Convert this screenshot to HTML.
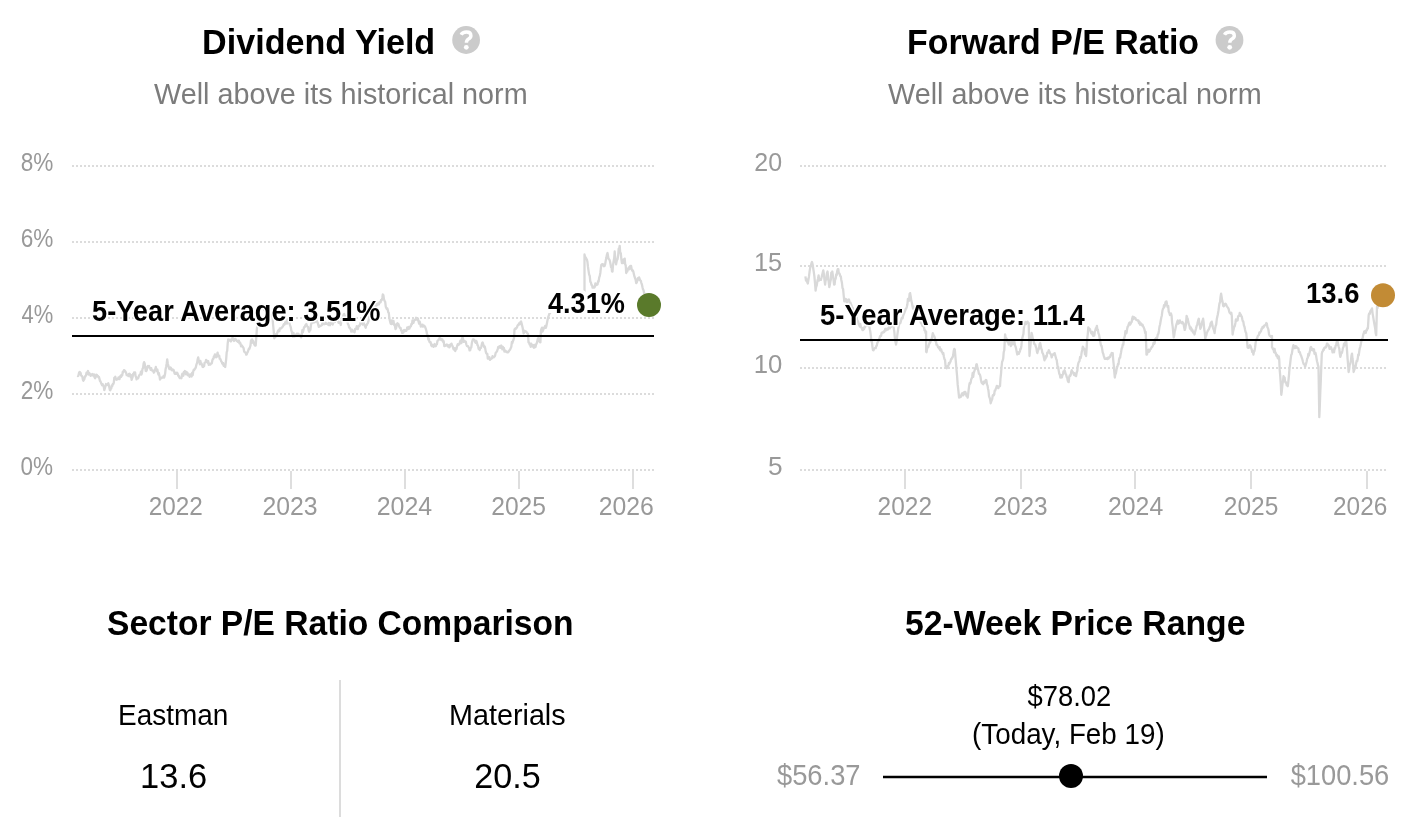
<!DOCTYPE html>
<html><head><meta charset="utf-8"><title>Eastman valuation</title>
<style>html,body{margin:0;padding:0;background:#fff;width:1418px;height:836px;overflow:hidden}svg{display:block;font-family:'Liberation Sans', sans-serif;will-change:transform}</style>
</head><body>
<svg width="1418" height="836" viewBox="0 0 1418 836">
<circle cx="466.1" cy="40" r="13.9" fill="#cbcbcb"/><path d="M461.1 34.8 Q462.5 32.0 466.5 32.0 Q470.90000000000003 32.0 470.90000000000003 35.6 Q471.1 37.6 468.5 39 Q466.40000000000003 40.2 466.40000000000003 42.8" fill="none" stroke="#fff" stroke-width="3.4"/><circle cx="466.3" cy="47.3" r="2.4" fill="#fff"/>
<circle cx="1229.5" cy="40" r="13.9" fill="#cbcbcb"/><path d="M1224.5 34.8 Q1225.9 32.0 1229.9 32.0 Q1234.3 32.0 1234.3 35.6 Q1234.5 37.6 1231.9 39 Q1229.8 40.2 1229.8 42.8" fill="none" stroke="#fff" stroke-width="3.4"/><circle cx="1229.7" cy="47.3" r="2.4" fill="#fff"/>
<text x="202.10" y="54.00" font-weight="bold" font-size="35.9" fill="#000" textLength="233.10" lengthAdjust="spacingAndGlyphs">Dividend Yield</text>
<text x="907.11" y="54.00" font-weight="bold" font-size="35.9" fill="#000" textLength="291.94" lengthAdjust="spacingAndGlyphs">Forward P/E Ratio</text>
<text x="154.00" y="104.00" font-weight="normal" font-size="29" fill="#7c7c7c" textLength="373.60" lengthAdjust="spacingAndGlyphs">Well above its historical norm</text>
<text x="888.00" y="104.00" font-weight="normal" font-size="29" fill="#7c7c7c" textLength="373.60" lengthAdjust="spacingAndGlyphs">Well above its historical norm</text>
<line x1="72" y1="166" x2="654" y2="166" stroke="#dcdcdc" stroke-width="2" stroke-dasharray="2 2"/>
<line x1="72" y1="242" x2="654" y2="242" stroke="#dcdcdc" stroke-width="2" stroke-dasharray="2 2"/>
<line x1="72" y1="318" x2="654" y2="318" stroke="#dcdcdc" stroke-width="2" stroke-dasharray="2 2"/>
<line x1="72" y1="394" x2="654" y2="394" stroke="#dcdcdc" stroke-width="2" stroke-dasharray="2 2"/>
<line x1="72" y1="470" x2="654" y2="470" stroke="#dcdcdc" stroke-width="2" stroke-dasharray="2 2"/>
<line x1="177" y1="471" x2="177" y2="489" stroke="#dedede" stroke-width="2"/>
<line x1="291" y1="471" x2="291" y2="489" stroke="#dedede" stroke-width="2"/>
<line x1="405" y1="471" x2="405" y2="489" stroke="#dedede" stroke-width="2"/>
<line x1="519" y1="471" x2="519" y2="489" stroke="#dedede" stroke-width="2"/>
<line x1="633" y1="471" x2="633" y2="489" stroke="#dedede" stroke-width="2"/>
<line x1="800" y1="166" x2="1387" y2="166" stroke="#dcdcdc" stroke-width="2" stroke-dasharray="2 2"/>
<line x1="800" y1="266" x2="1387" y2="266" stroke="#dcdcdc" stroke-width="2" stroke-dasharray="2 2"/>
<line x1="800" y1="368" x2="1387" y2="368" stroke="#dcdcdc" stroke-width="2" stroke-dasharray="2 2"/>
<line x1="800" y1="470" x2="1387" y2="470" stroke="#dcdcdc" stroke-width="2" stroke-dasharray="2 2"/>
<line x1="905" y1="471" x2="905" y2="489" stroke="#dedede" stroke-width="2"/>
<line x1="1021" y1="471" x2="1021" y2="489" stroke="#dedede" stroke-width="2"/>
<line x1="1135" y1="471" x2="1135" y2="489" stroke="#dedede" stroke-width="2"/>
<line x1="1251" y1="471" x2="1251" y2="489" stroke="#dedede" stroke-width="2"/>
<line x1="1367" y1="471" x2="1367" y2="489" stroke="#dedede" stroke-width="2"/>
<text x="20.70" y="171.00" font-weight="normal" font-size="25" fill="#999" textLength="32.63" lengthAdjust="spacingAndGlyphs">8%</text>
<text x="20.70" y="247.00" font-weight="normal" font-size="25" fill="#999" textLength="32.63" lengthAdjust="spacingAndGlyphs">6%</text>
<text x="21.60" y="323.00" font-weight="normal" font-size="25" fill="#999" textLength="31.72" lengthAdjust="spacingAndGlyphs">4%</text>
<text x="20.70" y="399.00" font-weight="normal" font-size="25" fill="#999" textLength="32.63" lengthAdjust="spacingAndGlyphs">2%</text>
<text x="20.60" y="475.00" font-weight="normal" font-size="25" fill="#999" textLength="32.53" lengthAdjust="spacingAndGlyphs">0%</text>
<text x="754.30" y="171.00" font-weight="normal" font-size="25" fill="#999" textLength="27.81" lengthAdjust="spacingAndGlyphs">20</text>
<text x="753.98" y="271.00" font-weight="normal" font-size="25" fill="#999" textLength="28.15" lengthAdjust="spacingAndGlyphs">15</text>
<text x="753.84" y="373.00" font-weight="normal" font-size="25" fill="#999" textLength="28.59" lengthAdjust="spacingAndGlyphs">10</text>
<text x="767.95" y="475.00" font-weight="normal" font-size="25" fill="#999" textLength="14.60" lengthAdjust="spacingAndGlyphs">5</text>
<text x="148.73" y="515.00" font-weight="normal" font-size="25" fill="#999" textLength="54.18" lengthAdjust="spacingAndGlyphs">2022</text>
<text x="262.51" y="515.00" font-weight="normal" font-size="25" fill="#999" textLength="55.11" lengthAdjust="spacingAndGlyphs">2023</text>
<text x="376.70" y="515.00" font-weight="normal" font-size="25" fill="#999" textLength="55.42" lengthAdjust="spacingAndGlyphs">2024</text>
<text x="491.21" y="515.00" font-weight="normal" font-size="25" fill="#999" textLength="54.80" lengthAdjust="spacingAndGlyphs">2025</text>
<text x="598.71" y="515.00" font-weight="normal" font-size="25" fill="#999" textLength="55.11" lengthAdjust="spacingAndGlyphs">2026</text>
<text x="877.62" y="515.00" font-weight="normal" font-size="25" fill="#999" textLength="54.39" lengthAdjust="spacingAndGlyphs">2022</text>
<text x="993.32" y="515.00" font-weight="normal" font-size="25" fill="#999" textLength="54.29" lengthAdjust="spacingAndGlyphs">2023</text>
<text x="1108.01" y="515.00" font-weight="normal" font-size="25" fill="#999" textLength="55.21" lengthAdjust="spacingAndGlyphs">2024</text>
<text x="1223.82" y="515.00" font-weight="normal" font-size="25" fill="#999" textLength="54.49" lengthAdjust="spacingAndGlyphs">2025</text>
<text x="1333.02" y="515.00" font-weight="normal" font-size="25" fill="#999" textLength="54.29" lengthAdjust="spacingAndGlyphs">2026</text>
<path d="M77.4 375.6 L78.0 376.1 L78.5 375.3 L79.0 372.9 L79.6 371.9 L80.1 372.3 L80.7 373.2 L81.2 375.7 L81.8 375.8 L82.3 376.6 L82.9 379.7 L83.4 380.7 L83.9 379.8 L84.4 379.1 L84.9 376.5 L85.4 376.4 L86.0 375.2 L86.5 372.6 L87.0 373.7 L87.5 372.4 L88.0 371.0 L88.5 374.5 L89.0 372.9 L89.6 373.4 L90.1 374.4 L90.6 375.8 L91.2 374.6 L91.7 375.4 L92.3 374.0 L92.8 374.6 L93.4 375.5 L93.9 374.4 L94.5 377.1 L95.1 378.2 L95.7 377.2 L96.2 374.7 L96.8 374.8 L97.3 375.8 L97.8 375.9 L98.4 377.2 L98.9 376.9 L99.4 378.6 L100.0 381.0 L100.5 381.3 L101.0 382.8 L101.5 383.9 L102.1 385.2 L102.6 384.1 L103.2 385.7 L103.7 386.4 L104.3 390.0 L104.8 388.6 L105.4 386.2 L106.0 384.0 L106.6 385.0 L107.2 385.2 L107.7 384.5 L108.3 383.3 L108.9 385.3 L109.8 389.9 L110.3 390.2 L110.8 387.9 L111.3 388.4 L111.8 385.4 L112.3 386.1 L112.8 383.9 L113.3 384.1 L113.8 382.6 L114.3 377.9 L114.8 377.7 L115.3 376.7 L115.8 378.5 L116.4 379.8 L116.9 379.4 L117.4 379.3 L118.0 379.1 L118.5 377.4 L119.0 378.8 L119.5 379.1 L120.0 377.0 L120.6 375.6 L121.1 376.9 L121.6 374.9 L122.2 375.5 L122.8 371.6 L123.3 372.3 L123.9 370.2 L124.4 370.2 L125.0 370.9 L125.5 371.6 L126.1 372.7 L126.7 375.2 L127.2 374.8 L127.8 375.2 L128.4 376.1 L128.9 374.0 L129.5 373.6 L130.0 374.6 L130.6 377.1 L131.1 375.1 L131.6 379.8 L132.1 378.3 L132.6 377.0 L133.1 373.9 L133.6 374.3 L134.1 372.3 L134.6 373.1 L135.1 372.4 L135.6 376.3 L136.1 376.9 L136.6 379.4 L137.2 378.0 L137.7 377.6 L138.2 378.3 L138.8 376.2 L139.3 375.2 L139.9 374.4 L140.4 374.4 L140.9 371.6 L141.5 374.5 L142.0 372.7 L142.5 368.9 L143.1 367.9 L143.6 363.6 L144.1 362.2 L144.6 363.3 L145.1 366.2 L145.7 370.9 L146.2 371.0 L146.8 370.1 L147.3 367.0 L147.9 366.0 L148.4 366.3 L149.0 365.9 L149.5 367.8 L150.1 367.8 L150.6 369.8 L151.2 368.1 L151.7 370.2 L152.2 370.5 L152.8 370.5 L153.3 371.3 L153.8 372.7 L154.3 372.0 L154.8 369.9 L155.3 369.0 L155.8 366.9 L156.3 369.7 L156.9 371.1 L157.4 369.7 L157.9 372.7 L158.4 374.5 L158.9 373.1 L159.5 376.2 L160.0 379.5 L160.5 378.6 L161.0 378.1 L161.5 377.6 L162.0 377.8 L162.6 377.4 L163.1 377.1 L163.6 375.9 L164.1 377.6 L164.6 376.1 L165.1 373.8 L165.6 369.2 L166.2 366.5 L166.7 363.5 L167.2 359.5 L167.8 363.5 L168.4 365.7 L169.0 368.2 L169.5 369.1 L170.0 368.3 L170.5 367.5 L171.1 368.3 L171.6 370.2 L172.1 370.3 L172.6 369.4 L173.1 370.2 L173.6 370.0 L174.1 371.5 L174.6 373.6 L175.1 373.9 L175.6 373.0 L176.1 372.7 L176.7 373.9 L177.2 372.8 L177.7 373.7 L178.2 375.6 L178.8 375.9 L179.3 377.4 L179.8 378.2 L180.4 378.2 L180.9 377.8 L181.4 378.3 L181.9 375.2 L182.4 373.6 L182.9 374.4 L183.4 375.7 L183.9 371.8 L184.4 372.4 L184.9 371.0 L185.4 372.8 L186.0 374.4 L186.5 371.9 L187.0 374.2 L187.5 372.9 L188.0 375.3 L188.5 375.0 L189.0 374.7 L189.6 376.8 L190.1 374.4 L190.6 374.4 L191.1 375.4 L191.6 376.5 L192.2 372.6 L192.7 375.0 L193.2 371.6 L193.8 369.6 L194.3 369.8 L194.8 369.0 L195.4 368.2 L195.9 367.0 L196.5 364.2 L197.1 363.0 L197.7 359.2 L198.2 357.4 L198.8 360.1 L199.3 361.3 L199.9 364.3 L200.4 360.9 L200.9 363.5 L201.5 363.4 L202.0 364.7 L202.6 366.9 L203.1 367.0 L203.6 366.3 L204.1 366.2 L204.6 362.7 L205.1 362.5 L205.6 362.3 L206.1 359.8 L206.6 361.4 L207.2 360.6 L207.7 362.8 L208.2 361.2 L208.7 364.8 L209.2 363.6 L209.8 363.9 L210.3 364.6 L210.8 363.8 L211.3 363.4 L211.8 363.4 L212.4 360.2 L212.9 358.9 L213.4 358.9 L213.9 356.3 L214.4 356.2 L214.9 354.3 L215.5 357.0 L216.0 355.6 L216.5 357.2 L217.1 354.7 L217.6 352.6 L218.1 356.0 L218.7 355.8 L219.2 355.6 L219.7 358.7 L220.2 358.8 L220.7 359.8 L221.2 361.4 L221.7 361.7 L222.2 363.4 L222.7 364.1 L223.2 363.1 L223.7 365.8 L224.2 364.9 L224.7 365.9 L225.2 367.0 L225.7 363.2 L226.2 358.8 L226.7 352.1 L227.2 350.9 L227.7 343.4 L228.2 339.5 L228.7 340.4 L229.3 340.5 L229.8 339.7 L230.3 339.7 L230.9 341.5 L231.4 340.5 L231.9 340.0 L232.5 337.5 L233.0 339.5 L233.5 338.8 L234.1 341.0 L234.6 340.1 L235.2 338.9 L235.7 339.4 L236.2 339.9 L236.8 341.1 L237.3 340.9 L237.9 341.7 L238.4 340.7 L238.9 340.6 L239.4 343.3 L240.0 342.4 L240.5 343.4 L241.0 346.4 L241.6 345.3 L242.1 345.8 L242.6 346.7 L243.1 347.4 L243.6 348.2 L244.1 351.3 L244.6 352.1 L245.2 352.3 L245.7 352.7 L246.2 354.6 L246.7 354.4 L247.2 352.8 L247.8 351.9 L248.3 350.4 L248.9 348.5 L249.4 348.8 L249.9 347.4 L250.5 345.4 L251.0 340.4 L251.6 343.0 L252.1 339.5 L252.6 341.1 L253.1 340.7 L253.6 342.0 L254.2 344.2 L254.7 345.1 L255.2 345.6 L255.7 345.5 L256.3 337.3 L256.9 328.7 L257.4 325.3 L257.9 322.8 L258.4 318.4 L259.0 314.1 L259.5 310.9 L260.0 308.1 L260.5 304.8 L261.0 305.7 L261.6 308.4 L262.1 304.9 L262.6 307.5 L263.2 307.4 L263.7 308.3 L264.2 310.0 L264.8 310.4 L265.3 309.6 L265.8 309.9 L266.3 310.0 L266.8 309.6 L267.4 311.6 L267.9 313.5 L268.4 312.4 L268.9 314.0 L269.4 314.5 L269.9 314.7 L270.4 315.9 L271.0 315.1 L271.5 314.9 L272.0 315.0 L272.5 316.8 L273.1 325.0 L273.7 330.8 L274.3 338.4 L274.9 336.9 L275.4 337.1 L276.0 334.2 L276.6 335.9 L277.1 333.5 L277.7 331.7 L278.2 330.6 L278.7 329.9 L279.3 331.3 L279.8 328.3 L280.3 328.3 L280.8 328.5 L281.4 328.2 L281.9 327.5 L282.4 326.9 L283.0 326.4 L283.6 324.6 L284.1 323.9 L284.7 324.5 L285.3 322.1 L285.8 322.7 L286.4 321.3 L286.9 323.6 L287.5 319.3 L288.0 321.5 L288.6 322.0 L289.1 321.1 L289.7 324.4 L290.2 325.6 L290.8 327.3 L291.3 330.5 L291.9 331.9 L292.4 334.8 L293.0 336.5 L293.5 333.0 L294.1 336.3 L294.6 334.7 L295.1 336.2 L295.7 335.7 L296.2 335.4 L296.7 333.8 L297.3 334.4 L297.8 333.6 L298.4 333.8 L298.9 335.0 L299.5 335.2 L300.0 335.0 L300.6 336.5 L301.2 337.3 L301.8 334.6 L302.3 330.2 L302.9 332.1 L303.5 329.8 L304.1 327.1 L304.7 327.2 L305.2 325.7 L305.8 324.6 L306.4 324.0 L307.0 325.8 L307.5 326.7 L308.1 327.0 L308.6 330.2 L309.2 331.7 L309.8 330.2 L310.4 329.8 L310.9 325.5 L311.5 322.7 L312.1 322.1 L312.6 321.6 L313.2 322.6 L313.7 320.8 L314.2 320.9 L314.8 322.2 L315.3 321.4 L315.8 321.6 L316.4 320.5 L316.9 321.1 L317.5 322.1 L318.2 324.6 L318.8 326.9 L319.3 326.3 L319.9 325.7 L320.4 326.1 L320.9 325.8 L321.5 325.4 L322.0 324.9 L322.5 323.0 L323.1 322.3 L323.6 323.1 L324.1 324.2 L324.7 323.5 L325.2 323.9 L325.7 322.7 L326.3 323.9 L326.8 323.7 L327.3 323.6 L327.9 324.1 L328.4 325.0 L328.9 323.0 L329.5 324.4 L330.0 325.3 L330.5 322.9 L331.1 323.5 L331.6 321.9 L332.1 323.5 L332.7 324.5 L333.2 322.1 L333.7 320.2 L334.3 320.8 L334.8 322.0 L335.4 320.3 L335.9 319.5 L336.5 316.6 L337.0 318.3 L337.5 319.1 L338.1 321.2 L338.6 322.8 L339.2 322.8 L339.7 322.4 L340.3 323.3 L340.8 325.0 L341.4 320.9 L342.0 319.6 L342.5 319.9 L343.1 316.4 L343.7 314.4 L344.2 314.0 L344.8 318.1 L345.3 315.9 L345.9 320.2 L346.4 319.5 L347.0 321.4 L347.5 322.1 L348.0 324.2 L348.6 325.1 L349.1 327.6 L349.7 327.6 L350.2 328.6 L350.8 329.6 L351.3 331.7 L351.9 329.7 L352.4 330.1 L353.0 331.5 L353.5 331.0 L354.1 331.2 L354.6 332.2 L355.2 328.8 L355.7 329.2 L356.3 328.5 L356.8 326.1 L357.3 326.8 L357.9 329.1 L358.4 326.8 L358.9 325.7 L359.5 325.8 L360.0 325.0 L360.5 322.6 L361.1 323.5 L361.6 322.7 L362.2 321.6 L362.7 324.5 L363.3 324.4 L363.8 323.1 L364.4 324.5 L365.1 326.6 L365.7 327.8 L366.2 325.1 L366.8 325.0 L367.3 323.8 L367.9 323.0 L368.4 321.4 L369.0 318.6 L369.5 316.4 L370.0 315.4 L370.5 313.9 L371.0 313.3 L371.6 313.8 L372.1 312.9 L372.6 311.5 L373.1 312.5 L373.6 310.6 L374.1 309.1 L374.7 308.0 L375.2 307.5 L375.7 305.6 L376.2 305.8 L376.7 304.2 L377.3 305.1 L377.8 303.5 L378.4 303.3 L378.9 304.4 L379.5 302.3 L380.0 302.0 L380.6 302.3 L381.1 299.8 L381.7 300.3 L382.3 298.0 L382.8 294.5 L383.4 295.3 L384.0 299.5 L384.6 300.8 L385.2 301.8 L385.8 306.8 L386.3 307.9 L386.8 309.0 L387.3 308.4 L387.8 310.1 L388.3 312.4 L388.8 312.8 L389.3 317.5 L389.8 320.4 L390.3 322.3 L390.8 323.9 L391.4 324.0 L391.9 320.3 L392.5 322.5 L393.0 323.7 L393.5 320.8 L394.1 324.8 L394.6 324.2 L395.5 329.0 L396.1 328.1 L396.8 324.3 L397.4 323.3 L397.9 323.8 L398.5 324.2 L399.0 326.1 L399.5 327.1 L400.0 328.0 L400.6 327.9 L401.1 330.4 L401.6 330.5 L402.2 332.9 L402.7 332.8 L403.2 332.7 L403.7 330.4 L404.2 330.0 L404.8 331.2 L405.3 330.2 L405.8 330.9 L406.3 330.8 L406.8 329.6 L407.3 327.3 L407.8 327.4 L408.4 329.0 L408.9 326.8 L409.4 328.7 L409.9 327.1 L410.4 326.3 L410.9 326.3 L411.4 324.0 L412.0 324.2 L412.5 320.3 L413.0 322.7 L413.5 322.8 L414.0 320.5 L414.5 319.9 L415.1 320.0 L415.6 319.5 L416.1 317.8 L416.6 318.0 L417.2 319.9 L417.9 318.5 L418.5 321.4 L419.1 323.6 L419.7 321.7 L420.2 323.3 L420.8 326.6 L421.4 326.1 L421.9 325.1 L422.5 324.6 L423.0 326.6 L423.6 325.7 L424.1 325.6 L424.7 326.2 L425.2 327.1 L425.8 328.8 L426.5 331.2 L427.1 334.8 L427.7 335.2 L428.3 339.6 L428.8 338.6 L429.4 341.9 L430.0 342.4 L430.6 342.1 L431.3 345.5 L431.9 346.2 L432.4 344.8 L433.0 345.7 L433.5 346.9 L434.1 345.6 L434.6 344.0 L435.2 345.6 L435.7 346.2 L436.3 344.7 L436.9 344.2 L437.4 341.1 L438.0 340.5 L438.6 339.5 L439.1 339.6 L439.7 337.7 L440.2 339.4 L440.8 338.6 L441.3 340.0 L441.9 339.4 L442.4 339.5 L443.0 341.6 L443.7 341.3 L444.3 346.2 L444.8 346.0 L445.3 345.7 L445.8 345.0 L446.4 345.4 L446.9 344.5 L447.4 346.0 L447.9 346.5 L448.4 346.4 L448.9 345.1 L449.4 347.4 L449.9 346.5 L450.5 344.4 L451.0 345.3 L451.5 343.6 L452.0 345.3 L452.6 346.1 L453.1 348.0 L453.6 349.5 L454.2 348.6 L454.8 348.1 L455.3 351.0 L455.9 349.1 L456.5 349.1 L457.1 346.1 L457.7 344.3 L458.2 345.1 L458.8 344.1 L459.3 344.3 L459.8 342.7 L460.4 340.7 L460.9 341.4 L461.4 343.1 L461.9 339.2 L462.5 337.1 L463.0 338.6 L463.6 341.9 L464.1 340.9 L464.6 340.8 L465.2 341.7 L465.8 341.7 L466.3 344.3 L466.9 345.9 L467.4 346.1 L468.0 346.1 L468.5 347.1 L469.1 348.0 L469.6 350.4 L470.2 350.1 L470.8 347.8 L471.3 347.4 L471.9 342.8 L472.4 340.9 L473.0 339.5 L473.6 339.4 L474.1 339.7 L474.7 340.6 L475.2 342.3 L475.8 342.9 L476.3 340.8 L476.9 342.4 L477.5 345.3 L478.0 345.6 L478.6 348.8 L479.1 348.4 L479.7 350.1 L480.3 347.6 L480.9 347.9 L481.4 346.2 L482.0 343.4 L482.6 342.4 L483.1 343.9 L483.6 345.5 L484.2 347.2 L484.7 346.4 L485.2 348.5 L485.7 351.4 L486.2 353.1 L486.7 353.7 L487.3 353.8 L487.8 358.7 L488.3 358.7 L488.8 358.2 L489.4 357.2 L489.9 359.9 L490.4 359.3 L490.9 359.0 L491.5 358.6 L492.0 358.1 L492.5 356.2 L493.0 357.2 L493.6 357.4 L494.1 356.8 L494.6 356.5 L495.1 355.4 L495.7 352.8 L496.2 352.3 L496.7 351.6 L497.2 350.8 L497.7 349.1 L498.2 347.1 L498.8 346.8 L499.3 347.5 L499.8 346.2 L500.3 346.6 L500.8 347.7 L501.3 345.5 L501.9 347.6 L502.4 349.4 L502.9 346.8 L503.4 348.2 L503.9 348.0 L504.4 351.6 L505.0 350.8 L505.5 350.6 L506.0 351.8 L506.5 352.1 L507.0 351.7 L507.6 352.4 L508.1 352.3 L508.6 351.7 L509.2 350.7 L509.7 350.0 L510.2 349.4 L510.8 347.9 L511.3 346.8 L511.9 342.0 L512.4 342.9 L512.9 341.2 L513.5 339.8 L514.0 338.1 L514.5 329.5 L515.0 328.8 L515.5 328.5 L516.0 328.7 L516.5 327.9 L517.0 327.4 L517.5 325.6 L518.0 324.9 L518.5 325.0 L519.0 323.4 L519.5 324.4 L520.0 323.5 L520.5 322.0 L521.0 321.4 L521.5 323.1 L522.0 325.1 L522.6 327.5 L523.1 330.6 L523.6 333.3 L524.2 332.3 L524.7 330.8 L525.3 331.5 L525.8 331.3 L526.4 331.9 L526.9 332.7 L527.5 333.4 L528.0 333.8 L528.5 342.4 L529.0 342.3 L529.6 344.4 L530.1 344.7 L530.7 346.7 L531.2 343.7 L531.7 346.4 L532.3 345.8 L532.8 345.0 L533.4 346.9 L533.9 347.8 L534.4 344.8 L535.0 345.3 L535.5 347.1 L536.1 344.3 L536.6 343.7 L537.2 341.7 L537.7 339.2 L538.2 338.1 L538.8 340.9 L539.3 341.3 L539.9 342.2 L540.4 342.4 L540.9 330.6 L541.4 329.0 L542.0 327.6 L542.5 331.6 L543.1 330.2 L543.6 328.8 L544.1 327.5 L544.7 327.8 L545.2 325.8 L545.8 327.8 L546.3 326.3 L546.8 324.1 L547.3 321.3 L547.9 318.6 L548.4 316.6 L549.0 314.9 L549.5 313.4 L550.0 313.4 L550.5 312.7 L551.0 313.0 M584.5 292.0 L584.5 254.4 L585.1 256.9 L585.7 257.5 L586.2 258.6 L586.8 259.2 L587.4 261.6 L588.0 267.0 L588.6 271.1 L589.1 274.4 L589.7 275.7 L590.3 281.7 L590.9 282.5 L591.5 285.1 L592.0 285.2 L592.6 287.7 L593.2 287.4 L593.7 286.6 L594.3 287.6 L594.8 286.9 L595.4 283.3 L595.9 285.1 L596.4 285.0 L597.0 284.2 L597.5 284.5 L598.1 281.2 L598.6 281.6 L599.2 277.5 L599.7 276.2 L600.3 273.0 L600.8 268.7 L601.3 265.0 L601.8 264.4 L602.4 264.2 L602.9 265.4 L603.5 264.5 L604.0 266.2 L604.6 265.9 L605.2 264.2 L605.8 260.2 L606.3 258.1 L606.9 254.8 L607.5 253.0 L608.0 256.0 L608.5 258.7 L609.0 259.1 L609.5 259.9 L610.0 261.5 L610.5 263.9 L611.0 267.0 L611.5 267.0 L612.0 271.4 L612.5 271.6 L613.0 265.2 L613.6 261.5 L614.2 258.0 L614.7 251.5 L615.4 259.9 L616.1 264.4 L616.6 261.3 L617.1 260.0 L617.6 259.2 L618.2 255.1 L618.7 248.7 L619.2 248.8 L619.7 245.8 L620.2 252.7 L620.8 253.1 L621.4 259.7 L621.9 263.0 L622.5 259.8 L623.0 263.0 L623.6 259.5 L624.1 260.4 L624.7 258.7 L625.2 264.5 L625.7 265.2 L626.2 273.0 L626.7 270.5 L627.3 271.6 L627.8 268.7 L628.4 269.4 L628.9 267.5 L629.4 269.2 L630.0 266.2 L630.5 265.9 L631.1 266.0 L631.6 268.9 L632.2 270.7 L632.7 270.3 L633.3 271.6 L633.9 274.2 L634.5 276.7 L635.0 278.0 L635.6 279.5 L636.2 283.1 L636.8 282.5 L637.4 280.4 L637.9 278.2 L638.5 279.5 L639.1 277.4 L639.7 279.3 L640.2 280.4 L640.8 280.8 L641.3 282.8 L641.9 284.5 L642.5 287.3 L643.0 289.4 L643.5 290.1 L644.1 293.2 L644.6 293.5 L645.2 296.2 L645.7 297.3 L646.3 299.4 L646.8 298.5 L647.4 302.1 L647.9 304.3 L648.5 304.7 L649.0 305.0" fill="none" stroke="#d9d9d9" stroke-width="2.3" stroke-linejoin="round"/>
<path d="M805.4 276.3 L806.0 280.7 L806.6 279.2 L807.2 282.1 L807.8 283.5 L808.4 279.7 L809.0 276.4 L809.6 271.5 L810.2 267.6 L810.8 266.3 L811.4 263.5 L812.0 262.0 L812.6 264.4 L813.2 268.2 L813.8 272.2 L814.4 276.3 L815.0 283.2 L815.6 290.7 L816.2 286.7 L816.8 285.2 L817.4 281.1 L818.0 278.7 L818.6 275.4 L819.2 280.5 L819.7 279.0 L820.3 278.8 L820.9 279.9 L821.5 277.8 L822.1 275.4 L822.7 272.8 L823.3 270.3 L823.9 274.2 L824.5 280.1 L825.1 284.7 L825.7 279.7 L826.3 279.7 L826.9 273.4 L827.5 271.5 L828.1 276.5 L828.7 281.9 L829.3 287.1 L829.8 284.7 L830.3 281.6 L830.8 279.8 L831.3 272.7 L831.8 273.8 L832.3 271.5 L832.9 275.6 L833.5 279.7 L834.1 284.7 L834.6 284.3 L835.1 279.6 L835.7 278.6 L836.2 274.5 L836.7 275.1 L837.2 271.1 L837.8 269.2 L838.3 269.1 L838.8 273.4 L839.3 273.3 L839.8 274.3 L840.3 276.3 L840.8 276.4 L841.3 279.9 L841.9 282.5 L842.5 288.0 L843.1 289.1 L843.7 295.5 L844.3 301.4 L844.8 301.4 L845.3 299.0 L845.8 300.9 L846.4 299.4 L846.9 302.4 L847.4 301.4 L847.9 300.3 L848.4 300.3 L848.9 299.4 L849.4 301.3 L849.9 302.8 L850.4 302.4 L850.9 304.5 L851.4 305.0 L851.9 307.3 L852.4 307.6 L853.0 308.5 L853.5 311.3 L854.0 311.5 L854.5 314.1 L855.0 314.2 L855.6 317.7 L856.1 317.0 L856.6 317.5 L857.1 320.2 L857.7 320.8 L858.2 321.8 L858.7 324.4 L859.2 324.8 L859.8 326.5 L860.3 324.0 L860.9 327.1 L861.4 327.7 L861.9 328.4 L862.5 330.1 L863.0 330.1 L863.5 327.7 L864.0 329.1 L864.6 327.4 L865.1 327.0 L865.6 325.8 L866.1 324.9 L866.6 323.9 L867.1 324.2 L867.7 325.3 L868.2 323.3 L868.7 321.5 L869.2 325.9 L869.8 329.2 L870.3 331.6 L870.9 336.4 L871.4 341.6 L871.9 341.5 L872.5 347.4 L873.0 350.2 L873.5 350.3 L874.1 348.6 L874.6 348.3 L875.1 348.1 L875.7 348.1 L876.2 346.2 L876.8 345.7 L877.3 343.0 L877.8 342.0 L878.4 341.3 L878.9 339.4 L879.5 338.2 L880.0 336.2 L880.5 336.2 L881.1 335.8 L881.6 333.0 L882.1 332.4 L882.7 332.4 L883.2 332.5 L883.7 331.4 L884.2 332.0 L884.8 330.9 L885.3 328.9 L885.8 328.7 L886.3 330.2 L886.9 329.7 L887.4 328.7 L887.9 329.5 L888.4 328.1 L889.0 327.7 L889.5 325.3 L890.0 328.3 L890.5 325.3 L891.0 327.1 L891.5 324.3 L892.1 324.4 L892.6 324.9 L893.1 324.4 L893.7 327.9 L894.3 331.6 L894.8 337.4 L895.4 341.2 L896.0 344.5 L896.6 341.2 L897.1 336.6 L897.7 332.3 L898.2 329.0 L898.8 325.8 L899.3 323.9 L899.9 323.2 L900.4 322.9 L901.0 320.6 L901.5 318.6 L902.0 317.6 L902.6 318.4 L903.1 315.8 L903.6 314.5 L904.2 313.2 L904.7 311.8 L905.2 310.7 L905.8 308.7 L906.3 308.5 L906.9 306.6 L907.4 304.3 L907.9 298.9 L908.5 299.7 L909.0 300.8 L909.6 293.9 L910.1 293.1 L910.7 296.5 L911.3 300.8 L911.9 302.9 L912.5 306.2 L913.0 308.5 L913.5 306.5 L914.0 307.4 L914.6 309.4 L915.1 309.7 L915.6 310.2 L916.1 312.2 L916.6 314.0 L917.2 314.8 L917.7 315.7 L918.2 316.4 L918.8 318.3 L919.3 319.0 L919.9 319.5 L920.4 321.5 L920.9 323.0 L921.4 323.7 L922.0 324.3 L922.5 325.9 L923.0 324.9 L923.5 326.8 L924.0 327.3 L924.5 330.3 L925.1 330.3 L925.6 333.0 L926.1 331.6 L926.1 351.7 L926.6 352.2 L927.1 348.8 L927.6 346.8 L928.2 347.3 L928.7 345.2 L929.2 344.1 L929.7 341.9 L930.2 342.5 L930.7 340.8 L931.2 339.8 L931.8 338.4 L932.3 335.9 L932.8 333.2 L933.3 334.4 L933.8 335.5 L934.4 336.6 L934.9 338.1 L935.5 341.2 L936.0 341.5 L936.5 344.7 L937.1 344.7 L937.6 345.9 L938.1 347.3 L938.6 347.8 L939.2 348.7 L939.7 347.1 L940.2 350.4 L940.7 349.9 L941.2 349.4 L941.7 351.8 L942.3 352.2 L942.8 353.9 L943.3 353.1 L943.9 356.8 L944.5 359.2 L945.0 359.9 L945.6 366.4 L946.2 367.4 L946.7 368.3 L947.3 366.8 L947.8 365.8 L948.4 365.9 L948.9 362.9 L949.4 363.9 L950.0 362.4 L950.5 361.7 L951.0 359.1 L951.6 359.1 L952.1 357.5 L952.6 357.5 L953.2 355.1 L953.7 350.8 L954.3 348.9 L954.8 349.5 L955.4 356.5 L956.0 363.3 L956.5 369.6 L957.1 376.1 L957.7 384.7 L958.4 390.9 L959.1 397.6 L959.6 395.8 L960.1 395.8 L960.7 397.0 L961.2 395.8 L961.7 394.1 L962.2 393.2 L962.7 393.7 L963.2 395.3 L963.8 392.3 L964.3 394.2 L964.8 391.8 L965.4 392.1 L966.0 393.9 L966.5 396.0 L967.1 395.6 L967.7 397.6 L968.4 391.9 L969.1 386.1 L969.6 383.1 L970.1 383.8 L970.6 382.8 L971.2 379.2 L971.7 378.6 L972.2 376.4 L972.7 373.0 L973.2 376.8 L973.7 373.0 L974.2 371.7 L974.8 369.6 L975.3 367.9 L975.8 368.7 L976.3 364.6 L976.8 364.3 L977.4 367.6 L977.9 369.2 L978.4 371.1 L978.9 373.8 L979.5 374.0 L980.0 375.0 L980.5 376.9 L981.0 380.3 L981.6 382.6 L982.1 383.2 L982.6 383.7 L983.2 384.3 L983.7 381.6 L984.2 382.9 L984.8 382.2 L985.3 380.9 L985.9 379.9 L986.4 380.4 L986.9 384.2 L987.5 385.4 L988.0 388.7 L988.5 390.8 L989.1 396.6 L989.6 397.5 L990.2 399.9 L990.7 403.3 L991.2 401.6 L991.7 400.2 L992.2 399.1 L992.7 395.7 L993.2 394.9 L993.7 395.3 L994.2 394.5 L994.7 390.7 L995.2 390.6 L995.7 389.0 L996.2 388.0 L996.8 385.8 L997.3 387.6 L997.9 386.4 L998.4 388.1 L998.9 386.6 L999.5 386.4 L1000.0 386.1 L1000.5 378.3 L1001.0 373.8 L1001.5 367.4 L1002.1 361.8 L1002.6 360.8 L1003.2 358.6 L1003.7 352.3 L1004.3 350.2 L1005.1 334.4 L1005.6 336.8 L1006.1 338.8 L1006.6 338.5 L1007.2 341.4 L1007.7 341.7 L1008.2 342.5 L1008.7 344.5 L1009.2 342.0 L1009.7 342.8 L1010.3 342.1 L1010.8 346.1 L1011.3 343.5 L1011.8 342.7 L1012.3 341.2 L1012.8 344.3 L1013.4 340.8 L1013.9 343.5 L1014.4 341.6 L1015.0 345.4 L1015.6 346.8 L1016.1 348.6 L1016.7 351.9 L1017.3 354.5 L1017.8 352.2 L1018.3 353.6 L1018.8 353.9 L1019.4 352.2 L1019.9 351.6 L1020.4 348.8 L1020.9 348.8 L1021.4 345.7 L1021.9 340.7 L1022.4 337.8 L1022.9 335.7 L1023.4 334.1 L1023.9 328.0 L1024.4 324.4 L1024.9 324.3 L1025.5 322.0 L1026.0 324.1 L1026.6 322.7 L1027.1 322.0 L1027.6 321.7 L1028.2 323.3 L1028.7 323.0 L1029.5 356.0 L1030.0 349.8 L1030.5 345.2 L1031.1 338.5 L1031.6 333.0 L1032.1 334.8 L1032.7 338.3 L1033.2 339.4 L1033.7 341.2 L1034.2 343.8 L1034.8 344.2 L1035.3 344.7 L1035.8 346.7 L1036.3 347.7 L1036.9 351.7 L1037.4 353.1 L1038.0 350.6 L1038.5 349.6 L1039.1 348.0 L1039.6 344.1 L1040.2 343.0 L1040.7 345.4 L1041.3 348.7 L1041.8 349.6 L1042.3 352.7 L1042.9 353.6 L1043.4 354.9 L1044.0 357.9 L1044.5 360.3 L1045.0 357.0 L1045.6 358.6 L1046.1 355.9 L1046.7 356.7 L1047.2 352.6 L1047.7 352.9 L1048.3 351.8 L1048.8 350.2 L1049.4 351.4 L1050.0 353.5 L1050.5 353.7 L1051.1 354.8 L1051.7 357.4 L1052.3 355.0 L1052.9 355.1 L1053.4 353.9 L1054.0 354.2 L1054.6 353.1 L1055.1 354.9 L1055.6 356.8 L1056.2 358.9 L1056.7 359.9 L1057.2 363.8 L1057.7 366.9 L1058.2 367.1 L1058.7 370.6 L1059.3 373.8 L1059.8 374.5 L1060.3 377.5 L1060.8 376.8 L1061.4 375.2 L1061.9 377.5 L1062.4 375.4 L1063.0 374.3 L1063.5 371.3 L1064.1 371.9 L1064.6 370.3 L1065.1 371.8 L1065.6 374.0 L1066.1 374.6 L1066.7 377.0 L1067.2 377.7 L1067.7 380.5 L1068.2 381.8 L1068.7 382.1 L1069.2 377.0 L1069.7 375.4 L1070.3 375.8 L1070.8 374.5 L1071.3 371.5 L1071.8 370.3 L1072.3 371.7 L1072.9 372.2 L1073.4 373.1 L1073.9 374.7 L1074.5 373.2 L1075.0 375.4 L1075.6 375.6 L1076.1 376.1 L1076.7 372.5 L1077.3 370.9 L1077.8 366.0 L1078.4 362.9 L1079.0 361.7 L1079.5 361.1 L1080.1 356.9 L1080.6 358.2 L1081.2 355.7 L1081.7 352.2 L1082.2 350.0 L1082.8 346.7 L1083.3 347.4 L1083.9 349.0 L1084.4 349.0 L1085.0 354.3 L1085.5 352.4 L1086.1 356.0 L1086.6 348.9 L1087.2 338.6 L1087.8 334.1 L1088.3 327.3 L1088.8 329.6 L1089.3 328.5 L1089.8 329.0 L1090.3 330.2 L1090.8 332.0 L1091.3 333.5 L1091.8 333.0 L1092.3 331.9 L1092.8 335.4 L1093.3 335.9 L1093.8 335.5 L1094.3 335.6 L1094.8 331.8 L1095.4 330.3 L1095.9 328.1 L1096.4 328.1 L1096.9 325.8 L1097.4 330.2 L1097.9 329.6 L1098.4 333.3 L1099.0 334.5 L1099.5 337.3 L1100.0 340.3 L1100.5 343.0 L1101.0 345.5 L1101.6 346.0 L1102.1 348.6 L1102.7 352.4 L1103.2 353.4 L1103.7 355.6 L1104.3 357.3 L1104.8 358.8 L1105.3 358.4 L1105.9 358.9 L1106.4 358.9 L1106.9 358.1 L1107.5 359.1 L1108.0 357.7 L1108.6 358.6 L1109.1 357.4 L1109.6 356.8 L1110.1 357.0 L1110.6 354.8 L1111.2 354.3 L1111.7 353.0 L1112.2 355.1 L1112.7 353.1 L1113.2 359.8 L1113.8 365.5 L1114.3 372.1 L1114.8 377.5 L1115.3 374.5 L1115.9 373.4 L1116.4 370.6 L1116.9 367.0 L1117.4 366.7 L1118.0 364.0 L1118.5 364.5 L1119.0 359.9 L1119.5 358.0 L1120.1 357.7 L1120.6 354.5 L1121.1 352.2 L1121.7 348.3 L1122.2 347.8 L1122.8 344.3 L1123.3 344.8 L1123.8 339.4 L1124.4 337.4 L1124.9 335.9 L1125.4 331.2 L1126.0 331.9 L1126.5 333.2 L1127.1 329.3 L1127.6 326.8 L1128.1 326.5 L1128.7 324.3 L1129.2 323.0 L1129.7 322.4 L1130.2 324.6 L1130.7 323.5 L1131.2 322.5 L1131.7 322.0 L1132.2 318.5 L1132.7 316.7 L1133.2 319.2 L1133.7 318.2 L1134.2 317.2 L1134.7 317.7 L1135.3 318.0 L1135.8 319.4 L1136.3 319.8 L1136.8 319.9 L1137.4 320.6 L1137.9 320.3 L1138.4 320.6 L1138.9 323.1 L1139.5 321.7 L1140.0 324.7 L1140.5 323.7 L1141.0 323.5 L1141.6 325.2 L1142.1 324.4 L1142.6 324.9 L1143.1 326.3 L1143.6 327.1 L1144.2 328.6 L1144.7 330.4 L1145.2 333.0 L1145.7 331.7 L1146.5 354.6 L1147.0 354.5 L1147.5 352.0 L1148.0 351.5 L1148.5 349.7 L1149.0 351.8 L1149.5 351.3 L1150.0 349.9 L1150.5 349.2 L1151.0 348.7 L1151.5 347.4 L1152.0 347.0 L1152.5 346.3 L1153.1 344.9 L1153.6 342.6 L1154.1 343.9 L1154.6 343.4 L1155.1 339.2 L1155.6 339.9 L1156.2 337.9 L1156.7 338.9 L1157.2 337.4 L1157.8 334.5 L1158.4 333.8 L1158.9 330.9 L1159.5 326.6 L1160.1 324.5 L1160.7 320.8 L1161.3 317.5 L1161.8 315.7 L1162.4 310.8 L1163.0 308.7 L1163.5 308.2 L1164.0 305.1 L1164.5 306.8 L1165.0 305.1 L1165.5 302.2 L1166.0 301.6 L1166.5 301.5 L1167.0 304.2 L1167.6 306.9 L1168.2 305.9 L1168.7 311.6 L1169.3 312.7 L1169.9 315.0 L1170.4 313.7 L1171.0 313.5 L1171.6 315.9 L1172.1 322.6 L1172.7 326.9 L1173.2 332.2 L1173.7 337.4 L1174.2 335.8 L1174.7 331.5 L1175.2 329.9 L1175.8 327.1 L1176.3 324.8 L1176.8 323.5 L1177.3 321.6 L1177.8 320.5 L1178.3 323.7 L1178.9 322.5 L1179.4 323.0 L1179.9 320.4 L1180.4 322.1 L1180.9 322.3 L1181.4 322.8 L1182.0 323.2 L1182.5 322.0 L1183.0 323.0 L1183.5 323.4 L1184.1 327.0 L1184.7 329.9 L1185.2 328.8 L1185.9 324.7 L1186.6 315.9 L1187.2 317.6 L1187.8 319.0 L1188.3 322.1 L1188.9 324.4 L1189.5 325.9 L1190.0 328.7 L1190.5 327.4 L1191.0 327.6 L1191.5 330.5 L1192.0 329.4 L1192.5 330.1 L1193.0 332.5 L1193.5 332.6 L1194.0 332.4 L1194.5 334.5 L1195.0 332.2 L1195.6 330.1 L1196.1 328.3 L1196.7 325.8 L1197.2 325.3 L1197.7 322.2 L1198.3 320.0 L1198.8 318.7 L1199.3 323.3 L1199.8 324.4 L1200.3 328.8 L1200.9 327.6 L1201.4 325.4 L1202.0 322.4 L1202.5 321.0 L1203.1 318.7 L1203.6 322.1 L1204.2 329.0 L1204.8 332.6 L1205.3 338.8 L1205.8 336.1 L1206.3 335.5 L1206.9 332.6 L1207.4 331.7 L1207.9 330.6 L1208.5 329.6 L1209.0 329.1 L1209.6 327.1 L1210.1 326.5 L1210.6 323.3 L1211.2 322.4 L1211.7 321.6 L1212.3 324.6 L1212.9 327.5 L1213.4 329.0 L1214.0 330.2 L1214.6 333.1 L1215.1 328.7 L1215.7 325.6 L1216.2 324.7 L1216.8 319.1 L1217.3 316.7 L1217.8 314.5 L1218.4 311.0 L1218.9 307.3 L1219.5 303.1 L1220.0 302.7 L1220.5 297.2 L1221.1 293.6 L1221.6 297.0 L1222.2 300.6 L1222.7 302.4 L1223.2 305.8 L1223.8 306.3 L1224.4 305.1 L1224.9 304.0 L1225.5 303.6 L1226.1 304.4 L1226.6 305.9 L1227.1 306.6 L1227.7 307.4 L1228.2 308.1 L1228.7 309.3 L1229.2 311.6 L1229.7 312.9 L1230.2 312.5 L1230.8 314.1 L1231.3 312.8 L1231.8 315.9 L1232.6 334.5 L1233.2 330.9 L1233.7 329.1 L1234.3 326.6 L1234.8 326.1 L1235.4 323.0 L1235.9 319.4 L1236.5 321.0 L1237.0 320.0 L1237.6 320.4 L1238.1 316.2 L1238.6 316.0 L1239.2 315.9 L1239.7 313.0 L1240.2 315.3 L1240.7 314.4 L1241.2 316.3 L1241.8 316.6 L1242.3 319.2 L1242.8 321.1 L1243.3 321.6 L1243.9 325.4 L1244.5 326.8 L1245.0 329.5 L1245.6 332.0 L1246.2 333.1 L1246.9 339.3 L1247.6 347.4 L1248.2 347.9 L1248.8 347.9 L1249.3 346.4 L1249.9 345.2 L1250.5 346.0 L1251.1 347.9 L1251.7 349.6 L1252.2 351.9 L1252.8 350.9 L1253.4 354.6 L1254.0 351.3 L1254.5 351.1 L1255.1 347.4 L1255.6 343.0 L1256.2 340.3 L1256.7 338.9 L1257.3 337.9 L1257.8 336.0 L1258.3 335.5 L1258.9 334.9 L1259.4 332.5 L1260.0 332.7 L1260.5 331.7 L1261.0 331.2 L1261.6 328.7 L1262.1 328.8 L1262.6 326.8 L1263.1 327.8 L1263.7 327.2 L1264.2 325.6 L1264.7 325.5 L1265.2 325.2 L1265.8 324.5 L1266.3 323.0 L1266.9 323.8 L1267.4 327.2 L1268.0 328.3 L1268.5 330.1 L1269.1 334.5 L1269.7 335.9 L1270.3 335.9 L1270.8 336.8 L1271.4 336.5 L1272.0 336.0 L1272.0 347.4 L1272.5 347.7 L1273.0 349.3 L1273.5 349.3 L1274.1 352.2 L1274.6 348.9 L1275.1 352.8 L1275.6 352.5 L1276.1 354.8 L1276.6 356.1 L1277.1 354.9 L1277.7 357.9 L1278.2 358.5 L1278.7 356.3 L1279.2 358.9 L1279.7 369.9 L1280.2 375.5 L1280.8 384.3 L1281.3 394.8 L1281.8 391.2 L1282.4 384.7 L1283.0 381.0 L1283.5 376.1 L1284.0 377.3 L1284.6 377.5 L1285.1 381.7 L1285.7 382.8 L1286.2 382.5 L1286.7 385.4 L1287.3 384.9 L1287.8 386.2 L1288.4 381.0 L1289.0 374.9 L1289.5 368.4 L1290.1 364.0 L1290.7 358.9 L1291.2 355.1 L1291.8 353.9 L1292.3 350.8 L1292.9 347.3 L1293.4 345.2 L1293.9 347.0 L1294.4 346.3 L1294.9 348.2 L1295.4 346.1 L1295.9 346.5 L1296.4 346.4 L1296.9 347.8 L1297.4 347.7 L1297.9 348.3 L1298.4 348.6 L1298.9 352.0 L1299.4 352.3 L1299.9 352.2 L1300.5 354.7 L1301.0 355.4 L1301.5 356.8 L1302.0 358.3 L1302.5 360.0 L1303.0 362.0 L1303.6 363.9 L1304.1 364.2 L1304.6 364.7 L1305.1 367.0 L1305.6 365.2 L1306.2 363.1 L1306.7 361.2 L1307.2 358.4 L1307.8 357.7 L1308.3 354.0 L1308.9 355.6 L1309.4 353.2 L1309.9 351.4 L1310.5 347.7 L1311.0 346.9 L1311.5 348.0 L1312.0 350.0 L1312.5 349.2 L1313.0 349.1 L1313.5 351.0 L1314.0 349.4 L1314.5 353.8 L1315.0 354.1 L1315.5 352.9 L1316.0 355.3 L1316.5 358.4 L1317.0 361.2 L1317.5 363.0 L1318.0 365.4 L1318.5 367.0 L1319.3 417.2 L1319.8 406.2 L1320.3 392.0 L1320.8 380.6 L1321.3 366.1 L1321.8 353.6 L1322.3 351.8 L1322.8 351.2 L1323.3 349.5 L1323.8 350.0 L1324.3 347.8 L1324.9 348.0 L1325.4 347.0 L1325.9 347.4 L1326.4 346.6 L1326.9 343.6 L1327.4 343.6 L1327.9 344.7 L1328.4 345.3 L1329.0 345.5 L1329.5 348.8 L1330.0 348.8 L1330.5 347.8 L1331.0 347.2 L1331.5 348.6 L1332.1 350.0 L1332.6 352.4 L1333.1 349.9 L1333.6 351.9 L1334.1 352.2 L1334.6 347.8 L1335.1 348.5 L1335.7 345.6 L1336.2 345.2 L1336.7 341.8 L1337.2 343.8 L1337.7 341.9 L1338.2 344.9 L1338.7 346.8 L1339.3 348.6 L1339.8 353.8 L1340.3 356.9 L1340.8 355.4 L1341.4 352.3 L1341.9 352.9 L1342.4 350.7 L1342.9 348.1 L1343.5 346.9 L1344.0 343.6 L1344.5 345.5 L1345.0 344.3 L1345.6 341.5 L1346.1 340.2 L1346.6 345.2 L1347.1 351.7 L1347.6 358.9 L1348.1 364.7 L1348.6 372.0 L1349.2 369.2 L1349.7 364.9 L1350.3 363.8 L1350.9 361.0 L1351.4 356.0 L1352.0 353.6 L1352.5 358.8 L1353.1 362.6 L1353.6 372.0 L1354.1 370.4 L1354.6 369.1 L1355.1 365.9 L1355.6 366.5 L1356.2 362.9 L1356.7 360.7 L1357.2 361.2 L1357.7 359.1 L1358.2 354.7 L1358.7 355.3 L1359.2 351.8 L1359.7 348.5 L1360.2 347.0 L1360.7 344.8 L1361.2 341.9 L1361.7 339.7 L1362.2 338.7 L1362.7 337.8 L1363.2 334.8 L1363.7 333.5 L1364.2 331.5 L1364.8 331.2 L1365.3 332.5 L1365.8 332.9 L1366.3 330.2 L1366.9 330.2 L1367.4 328.2 L1367.9 328.5 L1368.7 315.1 L1369.2 313.3 L1369.8 313.9 L1370.3 311.2 L1370.9 310.8 L1371.5 309.6 L1372.0 308.4 L1372.6 313.6 L1373.1 316.4 L1373.7 320.1 L1374.2 323.0 L1374.7 325.8 L1375.2 328.6 L1375.7 333.3 L1376.2 335.2 L1377.0 306.7 L1377.5 308.1 L1378.0 303.0 L1378.5 304.9 L1379.0 301.7 L1379.5 301.1 L1380.0 300.5 L1380.5 299.4 L1381.0 298.5 L1381.5 297.2 L1382.0 298.9 L1382.5 294.4 L1383.0 295.0" fill="none" stroke="#d9d9d9" stroke-width="2.3" stroke-linejoin="round"/>
<line x1="72" y1="336" x2="654" y2="336" stroke="#000" stroke-width="2.2"/>
<line x1="800" y1="340" x2="1388" y2="340" stroke="#000" stroke-width="2.2"/>
<text x="92.06" y="321.00" font-weight="bold" font-size="29" fill="#000" textLength="288.29" lengthAdjust="spacingAndGlyphs" stroke="#fff" stroke-width="3" paint-order="stroke" stroke-linejoin="round">5-Year Average: 3.51%</text>
<text x="820.05" y="325.00" font-weight="bold" font-size="29" fill="#000" textLength="264.65" lengthAdjust="spacingAndGlyphs" stroke="#fff" stroke-width="3" paint-order="stroke" stroke-linejoin="round">5-Year Average: 11.4</text>
<text x="548.00" y="313.00" font-weight="bold" font-size="29" fill="#000" textLength="76.92" lengthAdjust="spacingAndGlyphs" stroke="#fff" stroke-width="8" paint-order="stroke" stroke-linejoin="round">4.31%</text>
<text x="1306.11" y="303.00" font-weight="bold" font-size="29" fill="#000" textLength="53.32" lengthAdjust="spacingAndGlyphs" stroke="#fff" stroke-width="8" paint-order="stroke" stroke-linejoin="round">13.6</text>
<circle cx="649" cy="305" r="12" fill="#5a7a2b"/>
<circle cx="1383" cy="295.2" r="12" fill="#c28b35"/>
<text x="107.06" y="635.00" font-weight="bold" font-size="35.9" fill="#000" textLength="466.43" lengthAdjust="spacingAndGlyphs">Sector P/E Ratio Comparison</text>
<text x="905.06" y="635.00" font-weight="bold" font-size="35.9" fill="#000" textLength="340.34" lengthAdjust="spacingAndGlyphs">52-Week Price Range</text>
<text x="118.07" y="725.20" font-weight="normal" font-size="29.0" fill="#000" textLength="110.33" lengthAdjust="spacingAndGlyphs">Eastman</text>
<text x="449.02" y="725.10" font-weight="normal" font-size="29.0" fill="#000" textLength="116.63" lengthAdjust="spacingAndGlyphs">Materials</text>
<text x="140.08" y="788.00" font-weight="normal" font-size="35.9" fill="#000" textLength="67.04" lengthAdjust="spacingAndGlyphs">13.6</text>
<text x="474.25" y="787.80" font-weight="normal" font-size="35.9" fill="#000" textLength="66.37" lengthAdjust="spacingAndGlyphs">20.5</text>
<text x="1027.50" y="706.00" font-weight="normal" font-size="29.2" fill="#000" textLength="83.70" lengthAdjust="spacingAndGlyphs">$78.02</text>
<text x="972.10" y="743.70" font-weight="normal" font-size="29.2" fill="#000" textLength="192.59" lengthAdjust="spacingAndGlyphs">(Today, Feb 19)</text>
<text x="777.00" y="785.00" font-weight="normal" font-size="29.2" fill="#999" textLength="83.50" lengthAdjust="spacingAndGlyphs">$56.37</text>
<text x="1290.70" y="785.00" font-weight="normal" font-size="29.2" fill="#999" textLength="98.58" lengthAdjust="spacingAndGlyphs">$100.56</text>
<line x1="340" y1="680" x2="340" y2="817" stroke="#dcdcdc" stroke-width="2"/>
<line x1="883" y1="777" x2="1267" y2="777" stroke="#000" stroke-width="2.4"/>
<circle cx="1071" cy="776" r="12" fill="#000"/>
</svg>
</body></html>
